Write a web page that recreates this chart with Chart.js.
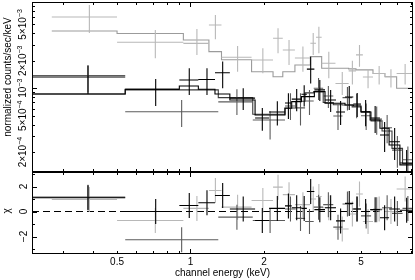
<!DOCTYPE html>
<html>
<head>
<meta charset="utf-8">
<script src="https://cdn.jsdelivr.net/npm/chart.js@4"></script>
<style>
  html, body { margin: 0; padding: 0; background: #fff; }
  #wrap { position: relative; width: 415px; height: 280px; }
  #wrap canvas { position: absolute; left: 0; top: 0; }
</style>
</head>
<body>
<div id="wrap">
  <canvas id="spec" width="415" height="280"></canvas>
  <canvas id="resid" width="415" height="280"></canvas>
</div>
<script>
// axis ranges
const energyMin = 0.224, energyMax = 8.17;
const fluxMin = 1.211e-4, fluxMax = 8.81e-3;
const chiMin = -3.40, chiMax = 3.16;

// tick positions / labels
const energyMajorTicks = [1];
const energyMinorTicks = [0.3, 0.4, 0.5, 0.6, 0.7, 0.8, 0.9, 2, 3, 4, 5, 6, 7, 8];
const energyLabels = [0.5, 1, 2, 5];
const fluxMajorTicks = [1e-3];
const fluxMinorTicks = [2e-4, 3e-4, 4e-4, 5e-4, 6e-4, 7e-4, 8e-4, 9e-4, 2e-3, 3e-3, 4e-3, 5e-3, 6e-3, 7e-3, 8e-3];
const fluxLabelValues = [2e-4, 5e-4, 1e-3, 2e-3, 5e-3];
const fluxLabelMant = ['2×10', '5×10', '10', '2×10', '5×10'];
const fluxLabelExp = ['−4', '−4', '−3', '−3', '−3'];
const chiMajorTicks = [-2, 0, 2];
const chiMinorTicks = [-3, -1, 1, 3];
const chiLabels = ['−2', '0', '2'];

// black spectrum
const blackLo    = [0.22, 0.54, 0.90, 1.077, 1.26, 1.45, 1.84, 2.10, 2.44, 2.60, 2.85, 3.00, 3.22, 3.56, 3.95, 4.30, 4.65, 5.00, 5.45, 5.98, 6.52, 7.22];
const blackHi    = [0.54, 0.90, 1.077, 1.26, 1.45, 1.84, 2.10, 2.44, 2.60, 2.85, 3.00, 3.22, 3.56, 3.95, 4.30, 4.65, 5.00, 5.45, 5.98, 6.52, 7.22, 8.17];
const blackFlux  = [1.33e-3, 9.75e-4, 1.23e-3, 1.25e-3, 1.48e-3, 7.8e-4, 4.73e-4, 5.5e-4, 6.9e-4, 7.6e-4, 8.6e-4, 1.62e-3, 9.6e-4, 7.44e-4, 5.5e-4, 8.03e-4, 6.73e-4, 5.5e-4, 4.73e-4, 3.08e-4, 2.6e-4, 1.52e-4];
const blackUp    = [1.77e-3, 1.26e-3, 1.66e-3, 1.66e-3, 1.96e-3, 1.0e-3, 6.08e-4, 7.2e-4, 8.8e-4, 9.8e-4, 1.08e-3, 2.22e-3, 1.23e-3, 9.6e-4, 7.26e-4, 1.06e-3, 8.88e-4, 7.44e-4, 6.4e-4, 4.27e-4, 3.68e-4, 2.11e-4];
const blackDown  = [8.66e-4, 6.4e-4, 8.45e-4, 8.45e-4, 1.0e-3, 5.8e-4, 3.42e-4, 3.9e-4, 4.6e-4, 5.6e-4, 6.3e-4, 1.13e-3, 7.26e-4, 5.5e-4, 3.96e-4, 5.78e-4, 4.85e-4, 3.85e-4, 3.24e-4, 2.0e-4, 1.64e-4, 1.0e-4];
const blackModel = [8.66e-4, 9.75e-4, 1.06e-3, 9.75e-4, 8.66e-4, 7.44e-4, 5.1e-4, 5.1e-4, 6.05e-4, 7.14e-4, 8.1e-4, 8.1e-4, 9.2e-4, 6.85e-4, 6.85e-4, 6.57e-4, 6.4e-4, 5.54e-4, 4.5e-4, 3.65e-4, 2.39e-4, 1.45e-4];
const blackChi   = [1.1, 0.0, 0.48, 0.7, 1.28, 0.2, -0.72, 0.25, 0.45, 0.3, 0.25, 1.6, 0.15, 0.3, -0.75, 0.65, 0.2, 0.0, 0.15, -0.5, 0.2, 0.1];

// dark grey spectrum
const darkLo    = [0.22, 0.54, 1.30, 1.80, 2.44, 2.70, 2.95, 3.20, 3.50, 3.85, 4.20, 4.60, 5.00, 5.50, 6.10, 6.70, 7.40];
const darkHi    = [0.54, 1.30, 1.80, 2.44, 2.70, 2.95, 3.20, 3.50, 3.85, 4.20, 4.60, 5.00, 5.50, 6.10, 6.70, 7.40, 8.17];
const darkFlux  = [1.38e-3, 5.54e-4, 7.1e-4, 4.5e-4, 6.4e-4, 6.1e-4, 7.26e-4, 1.0e-3, 8.24e-4, 4.97e-4, 7.9e-4, 6.57e-4, 5.0e-4, 4.6e-4, 3.7e-4, 2.1e-4, 1.65e-4];
const darkUp    = [1.8e-3, 7.44e-4, 9.75e-4, 5.6e-4, 8.8e-4, 8.8e-4, 9.6e-4, 1.3e-3, 1.06e-3, 6.6e-4, 1.03e-3, 8.7e-4, 6.8e-4, 6.3e-4, 5.1e-4, 3.0e-4, 2.3e-4];
const darkDown  = [9.0e-4, 3.77e-4, 5.1e-4, 2.75e-4, 4.5e-4, 3.9e-4, 5.1e-4, 7.44e-4, 6.08e-4, 3.5e-4, 5.7e-4, 4.7e-4, 3.5e-4, 3.1e-4, 2.5e-4, 1.35e-4, 1.1e-4];
const darkModel = [8.66e-4, 9.6e-4, 7.9e-4, 5.2e-4, 6.08e-4, 7.2e-4, 8.9e-4, 9.2e-4, 7.0e-4, 6.6e-4, 6.57e-4, 6.24e-4, 5.5e-4, 4.4e-4, 3.4e-4, 2.2e-4, 1.5e-4];
const darkChi   = [1.15, -2.26, -0.45, -0.72, 0.2, -0.55, -0.8, 0.35, 0.55, -1.25, 0.6, 0.2, -0.35, 0.15, 0.3, -0.15, 0.25];

// light grey spectrum
const lightLo    = [0.27, 0.50, 0.935, 1.19, 1.34, 1.78, 2.18, 2.39, 2.68, 3.10, 3.27, 3.45, 3.93, 4.45, 4.77, 5.09, 5.60, 6.27, 7.00];
const lightHi    = [0.50, 0.935, 1.19, 1.34, 1.78, 2.18, 2.39, 2.68, 3.10, 3.27, 3.45, 3.93, 4.45, 4.77, 5.09, 5.60, 6.27, 7.00, 8.17];
const lightFlux  = [6.04e-3, 3.19e-3, 3.10e-3, 4.94e-3, 2.19e-3, 2.04e-3, 3.53e-3, 2.63e-3, 2.15e-3, 3.11e-3, 3.62e-3, 1.88e-3, 1.13e-3, 1.55e-3, 2.32e-3, 1.33e-3, 1.45e-3, 1.34e-3, 1.45e-3];
const lightUp    = [8.17e-3, 4.35e-3, 4.46e-3, 6.35e-3, 2.91e-3, 2.74e-3, 4.54e-3, 3.38e-3, 2.86e-3, 4.03e-3, 4.73e-3, 2.52e-3, 1.51e-3, 2.0e-3, 2.98e-3, 1.62e-3, 1.75e-3, 1.62e-3, 1.85e-3];
const lightDown  = [4.02e-3, 2.13e-3, 2.32e-3, 3.44e-3, 1.52e-3, 1.46e-3, 2.42e-3, 1.80e-3, 1.52e-3, 2.32e-3, 2.42e-3, 1.29e-3, 8.45e-4, 1.1e-3, 1.72e-3, 1.0e-3, 1.1e-3, 1.02e-3, 1.1e-3];
const lightModel = [4.24e-3, 3.98e-3, 3.38e-3, 2.52e-3, 2.05e-3, 1.52e-3, 1.34e-3, 1.52e-3, 1.80e-3, 2.22e-3, 2.22e-3, 1.66e-3, 1.66e-3, 1.63e-3, 1.59e-3, 1.59e-3, 1.45e-3, 1.34e-3, 1.0e-3];
const lightChi   = [0.96, -0.72, 0.25, 1.68, 0.35, 0.88, 1.95, 1.35, 0.55, 1.0, 1.2, 0.3, -1.4, -0.2, 1.4, -0.8, 0.2, 0.0, 1.8];

const TEXT_FONT = '10px "Liberation Sans", Arial, sans-serif';
const SUP_FONT = '7px "Liberation Sans", Arial, sans-serif';

// horizontal bin bar + vertical error bar, segments split by null gaps
function crossPoints(lo, hi, val, up, down) {
    const pts = [];
    for (let i = 0; i < lo.length; i++) {
        const mid = (lo[i] + hi[i]) / 2;
        pts.push({x: lo[i], y: val[i]}, {x: hi[i], y: val[i]}, {x: hi[i], y: null});
        pts.push({x: mid, y: up[i]}, {x: mid, y: down[i]}, {x: mid, y: null});
    }
    return pts;
}

// delchi residuals carry unit error bars
function residPoints(lo, hi, chi) {
    return crossPoints(lo, hi, chi, chi.map(c => c + 1), chi.map(c => c - 1));
}

function stepPoints(lo, hi, model) {
    const pts = [];
    for (let i = 0; i < lo.length; i++) {
        pts.push({x: lo[i], y: model[i]}, {x: hi[i], y: model[i]});
    }
    return pts;
}

function lineSet(data, color, width, dash) {
    return {
        data: data,
        borderColor: color,
        borderWidth: width,
        borderDash: dash || [],
        pointRadius: 0,
        fill: false,
        tension: 0,
        spanGaps: false
    };
}

function rotatedText(ctx, parts, x, y) {
    ctx.save();
    ctx.translate(x, y);
    ctx.rotate(-Math.PI / 2);
    ctx.textAlign = 'left';
    ctx.textBaseline = 'alphabetic';
    let total = 0;
    parts.forEach(([t, sup]) => {
        ctx.font = sup ? SUP_FONT : TEXT_FONT;
        total += ctx.measureText(t).width;
    });
    let cx = -total / 2;
    parts.forEach(([t, sup]) => {
        ctx.font = sup ? SUP_FONT : TEXT_FONT;
        ctx.fillText(t, cx, sup ? -4 : 0);
        cx += ctx.measureText(t).width;
    });
    ctx.restore();
}

function drawFrame(chart, yMajor, yMinor) {
    const {ctx, chartArea: a} = chart;
    const xs = chart.scales.x, ys = chart.scales.y;
    ctx.save();
    ctx.strokeStyle = '#000';
    ctx.lineWidth = 1;
    ctx.strokeRect(a.left + 0.5, a.top + 0.5, a.right - a.left - 1, a.bottom - a.top - 1);
    ctx.beginPath();
    const xTick = (v, len) => {
        const px = Math.round(xs.getPixelForValue(v)) + 0.5;
        ctx.moveTo(px, a.top); ctx.lineTo(px, a.top + len);
        ctx.moveTo(px, a.bottom); ctx.lineTo(px, a.bottom - len);
    };
    const yTick = (v, len) => {
        const py = Math.round(ys.getPixelForValue(v)) + 0.5;
        ctx.moveTo(a.left, py); ctx.lineTo(a.left + len, py);
        ctx.moveTo(a.right, py); ctx.lineTo(a.right - len, py);
    };
    energyMajorTicks.forEach(v => xTick(v, 5));
    energyMinorTicks.forEach(v => xTick(v, 3));
    yMajor.forEach(v => yTick(v, 5));
    yMinor.forEach(v => yTick(v, 3));
    ctx.stroke();
    ctx.restore();
}

const specAxes = {
    id: 'specAxes',
    afterDraw(chart) {
        const ctx = chart.ctx;
        drawFrame(chart, fluxMajorTicks, fluxMinorTicks);
        ctx.save();
        ctx.fillStyle = '#000';
        fluxLabelValues.forEach((v, i) => {
            const py = chart.scales.y.getPixelForValue(v);
            rotatedText(ctx, [[fluxLabelMant[i], false], [fluxLabelExp[i], true]], 25.5, py);
        });
        rotatedText(ctx, [['normalized counts/sec/keV', false]], 10.5, 77);
        ctx.restore();
    }
};

const residAxes = {
    id: 'residAxes',
    afterDraw(chart) {
        const ctx = chart.ctx;
        drawFrame(chart, chiMajorTicks, chiMinorTicks);
        ctx.save();
        ctx.fillStyle = '#000';
        chiMajorTicks.forEach((v, i) => {
            rotatedText(ctx, [[chiLabels[i], false]], 26.5, chart.scales.y.getPixelForValue(v));
        });
        rotatedText(ctx, [['χ', false]], 10, 211);
        ctx.font = TEXT_FONT;
        ctx.textAlign = 'center';
        ctx.textBaseline = 'alphabetic';
        energyLabels.forEach(v => {
            ctx.fillText(String(v), chart.scales.x.getPixelForValue(v), 265);
        });
        ctx.fillText('channel energy (keV)', (chart.chartArea.left + chart.chartArea.right) / 2, 276);
        ctx.restore();
    }
};

const baseOptions = {
    responsive: false,
    animation: false,
    events: [],
    plugins: { legend: { display: false }, tooltip: { enabled: false } }
};

new Chart(document.getElementById('spec'), {
    type: 'line',
    data: {
        datasets: [
            lineSet(crossPoints(blackLo, blackHi, blackFlux, blackUp, blackDown), '#000', 1.1),
            lineSet(stepPoints(blackLo, blackHi, blackModel), '#000', 1.1),
            lineSet(crossPoints(darkLo, darkHi, darkFlux, darkUp, darkDown), '#5c5c5c', 1.1),
            lineSet(stepPoints(darkLo, darkHi, darkModel), '#3c3c3c', 1.1),
            lineSet(crossPoints(lightLo, lightHi, lightFlux, lightUp, lightDown), '#b8b8b8', 1.1),
            lineSet(stepPoints(lightLo, lightHi, lightModel), '#9b9b9b', 1.1)
        ]
    },
    options: Object.assign({}, baseOptions, {
        layout: { padding: { left: 32, right: 2, top: 2, bottom: 108 } },
        scales: {
            x: { type: 'logarithmic', min: energyMin, max: energyMax, display: false },
            y: { type: 'logarithmic', min: fluxMin, max: fluxMax, display: false }
        }
    }),
    plugins: [specAxes]
});

new Chart(document.getElementById('resid'), {
    type: 'line',
    data: {
        datasets: [
            lineSet(residPoints(blackLo, blackHi, blackChi), '#000', 1.1),
            lineSet(residPoints(darkLo, darkHi, darkChi), '#5c5c5c', 1.1),
            lineSet(residPoints(lightLo, lightHi, lightChi), '#b8b8b8', 1.1),
            lineSet([{x: energyMin, y: 0}, {x: energyMax, y: 0}], '#000', 1, [7, 4])
        ]
    },
    options: Object.assign({}, baseOptions, {
        layout: { padding: { left: 32, right: 2, top: 172, bottom: 26 } },
        scales: {
            x: { type: 'logarithmic', min: energyMin, max: energyMax, display: false },
            y: { type: 'linear', min: chiMin, max: chiMax, display: false }
        }
    }),
    plugins: [residAxes]
});
</script>
</body>
</html>
